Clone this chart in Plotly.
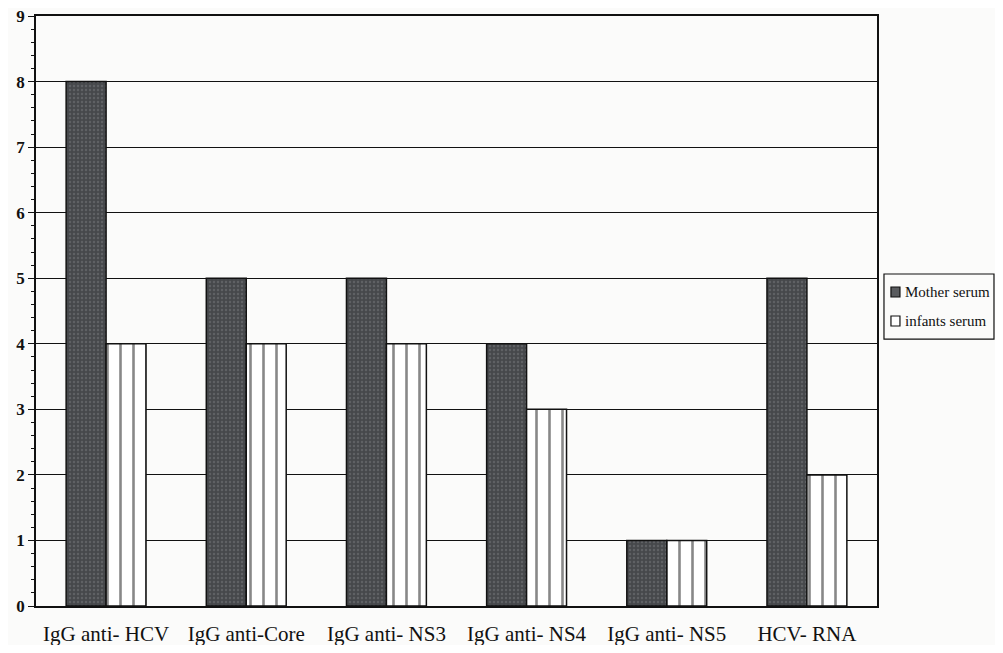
import plotly.graph_objects as go

categories = ["IgG anti- HCV", "IgG anti-Core", "IgG anti- NS3", "IgG anti- NS4", "IgG anti- NS5", "HCV- RNA"]
mother = [8, 5, 5, 4, 1, 5]
infants = [4, 4, 4, 3, 1, 2]
series_names = ["Mother serum", "infants serum"]

BG = "#fbfbfa"

fig = go.Figure()
fig.add_trace(go.Bar(
    x=categories, y=mother, name=series_names[0],
    marker=dict(color="#4d4f52", line=dict(color="#111111", width=1.5),
                pattern=dict(shape=".", fgcolor="#77797c", bgcolor="#46484b", size=4, solidity=0.3)),
))
fig.add_trace(go.Bar(
    x=categories, y=infants, name=series_names[1],
    marker=dict(color="white", line=dict(color="#111111", width=1.5),
                pattern=dict(shape="|", fgcolor="#111111", bgcolor="white", size=13, solidity=0.2)),
))

# plot area in figure px: x 28..869 (841), y 8..598 (590)
# compact legend box drawn in paper coordinates (mimics the original legend)
shapes = [
    dict(type="rect", xref="paper", yref="paper", x0=1.0083, x1=1.1391, y0=0.4525, y1=0.5627,
         line=dict(color="#111111", width=1.2), fillcolor=BG),
    dict(type="rect", xref="paper", yref="paper", x0=1.0166, x1=1.0273, y0=0.5237, y1=0.5407,
         line=dict(color="#111111", width=1.2), fillcolor="#5a5c5f"),
    dict(type="rect", xref="paper", yref="paper", x0=1.0166, x1=1.0273, y0=0.4746, y1=0.4915,
         line=dict(color="#111111", width=1.2), fillcolor="white"),
]
annotations = [
    dict(xref="paper", yref="paper", x=1.0311, y=0.5322, text=series_names[0], showarrow=False,
         xanchor="left", yanchor="middle", font=dict(size=15, family="Liberation Serif", color="#111111")),
    dict(xref="paper", yref="paper", x=1.0311, y=0.4831, text=series_names[1], showarrow=False,
         xanchor="left", yanchor="middle", font=dict(size=15, family="Liberation Serif", color="#111111")),
]

fig.update_layout(
    width=987, height=637,
    barmode="group", bargap=0.43, bargroupgap=0,
    paper_bgcolor=BG, plot_bgcolor=BG,
    margin=dict(l=28, r=118, t=8, b=39),
    font=dict(family="Liberation Serif", color="#111111"),
    showlegend=False,
    shapes=shapes, annotations=annotations,
)
fig.update_xaxes(
    showline=True, linecolor="#111111", linewidth=1.5, mirror=True,
    ticks="outside", ticklen=8, tickcolor="rgba(0,0,0,0)",
    tickfont=dict(size=21, family="Liberation Serif"),
    showgrid=False, automargin=False,
)
fig.update_yaxes(
    range=[0, 9], dtick=1, showline=True, linecolor="#111111", linewidth=1.5, mirror=True,
    showgrid=True, gridcolor="#111111", gridwidth=1.2,
    ticks="outside", ticklen=6, tickcolor="#111111",
    tickfont=dict(size=17, family="Liberation Serif", weight="bold"),
    ticklabeloverflow="allow", automargin=False,
    minor=dict(dtick=0.2, ticks="outside", ticklen=3, tickcolor="#111111", showgrid=False),
    zeroline=False,
)
fig.write_html("out.html")
